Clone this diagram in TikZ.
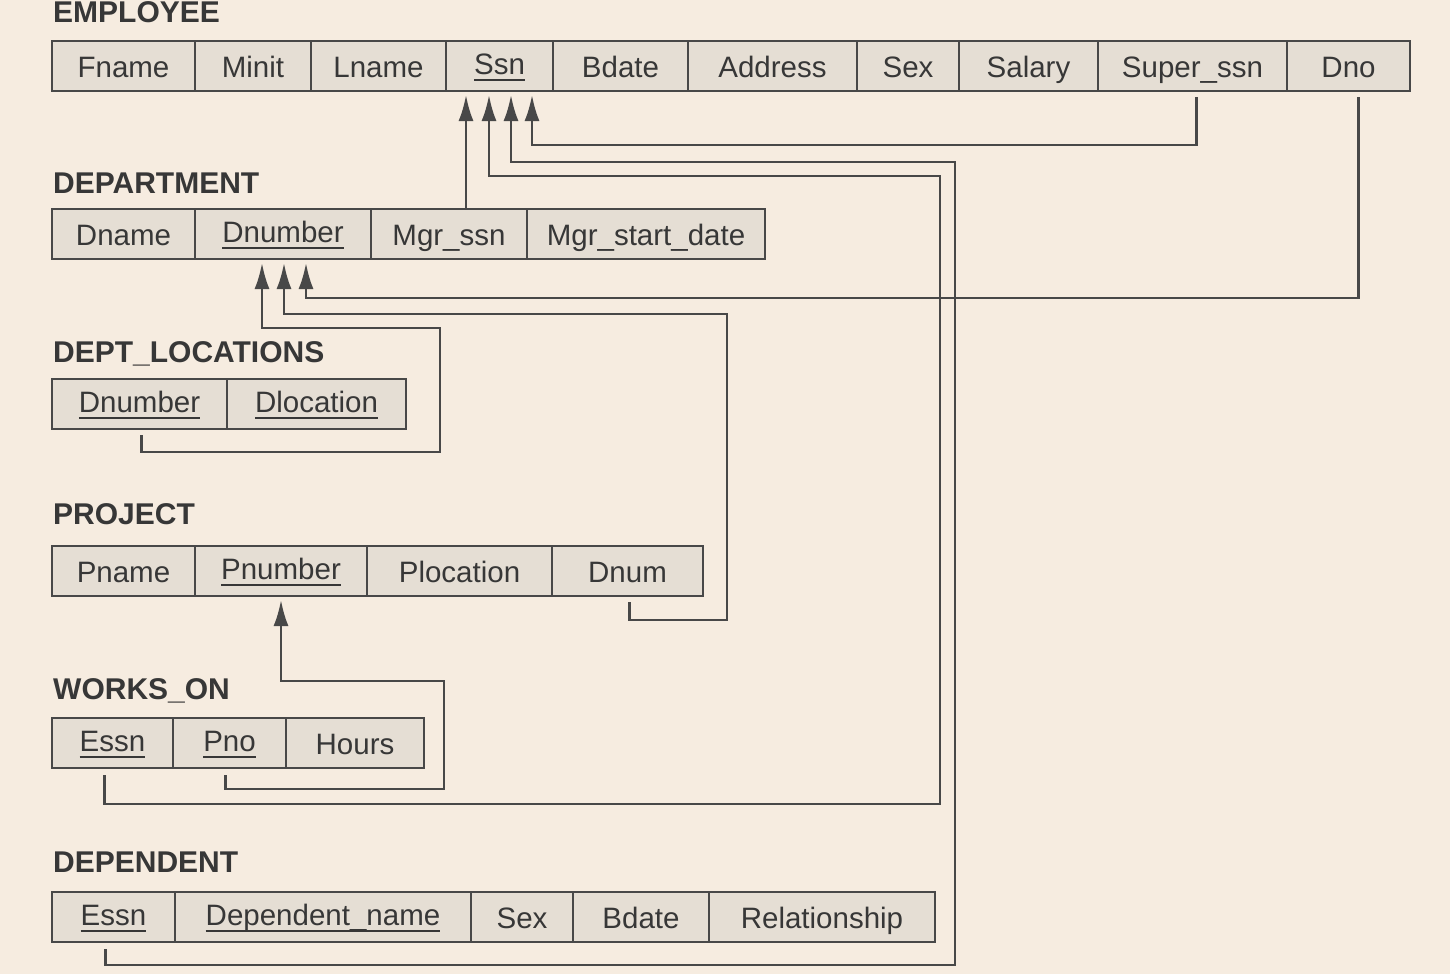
\documentclass[tikz,border=0pt]{standalone}
\usepackage{fontspec}
\setmainfont{Liberation Sans}
\usetikzlibrary{arrows.meta,positioning}

\definecolor{paper}{RGB}{246,236,224}
\definecolor{cellfill}{RGB}{229,222,212}
\definecolor{ink}{RGB}{72,72,72}
\definecolor{textgray}{RGB}{55,55,55}

% underlined key attribute
\newsavebox{\keybox}
\newcommand{\keyattr}[1]{\sbox{\keybox}{#1}\raisebox{3pt}{\rlap{\rule[-6.5pt]{\wd\keybox}{2.5pt}}\usebox{\keybox}}}

\begin{document}
\begin{tikzpicture}[x=1pt, y=-1pt,
    cell/.style={rectangle, draw=ink, fill=cellfill, line width=2.7pt, minimum height=50pt, inner sep=0pt, outer sep=0pt, text height=23pt, text depth=0pt, text=textgray, font=\fontsize{29.5}{34}\selectfont},
    relname/.style={anchor=base west, inner sep=0pt, text=textgray, font=\fontsize{30}{34}\selectfont\bfseries},
    fk/.style={draw=ink, line width=2.5pt, -{Latex[length=26pt,width=15pt]}}]

    \fill[paper] (0,0) rectangle (1450,974);
    \useasboundingbox (0,0) rectangle (1450,974);

    % Table for EMPLOYEE
    \node [relname] (employee) at (53,23) {EMPLOYEE};
    \node [cell, minimum width=143pt, anchor=north west] (fname) at (52,41) {Fname};
    \node [cell, minimum width=116pt, right=0pt of fname] (minit) {Minit};
    \node [cell, minimum width=135pt, right=0pt of minit] (lname) {Lname};
    \node [cell, minimum width=107pt, right=0pt of lname] (ssn) {\keyattr{Ssn}};
    \node [cell, minimum width=135pt, right=0pt of ssn] (bdate) {Bdate};
    \node [cell, minimum width=169pt, right=0pt of bdate] (address) {Address};
    \node [cell, minimum width=102pt, right=0pt of address] (sex) {Sex};
    \node [cell, minimum width=139pt, right=0pt of sex] (salary) {Salary};
    \node [cell, minimum width=189pt, right=0pt of salary] (superssn) {Super\_ssn};
    \node [cell, minimum width=123pt, right=0pt of superssn] (dno) {Dno};

    % Table for DEPARTMENT
    \node [relname] (department) at (53,193) {DEPARTMENT};
    \node [cell, minimum width=143pt, anchor=north west] (dname) at (52,209) {Dname};
    \node [cell, minimum width=176pt, right=0pt of dname] (dnumber) {\keyattr{Dnumber}};
    \node [cell, minimum width=156pt, right=0pt of dnumber] (mgrssn) {Mgr\_ssn};
    \node [cell, minimum width=238pt, right=0pt of mgrssn] (mgrstart) {Mgr\_start\_date};

    % Table for DEPT_LOCATIONS
    \node [relname] (deptloc) at (53,362) {DEPT\_LOCATIONS};
    \node [cell, minimum width=175pt, anchor=north west] (dlnumber) at (52,379) {\keyattr{Dnumber}};
    \node [cell, minimum width=179pt, right=0pt of dlnumber] (dlocation) {\keyattr{Dlocation}};

    % Table for PROJECT
    \node [relname] (project) at (53,524) {PROJECT};
    \node [cell, minimum width=143pt, anchor=north west] (pname) at (52,546) {Pname};
    \node [cell, minimum width=172pt, right=0pt of pname] (pnumber) {\keyattr{Pnumber}};
    \node [cell, minimum width=185pt, right=0pt of pnumber] (plocation) {Plocation};
    \node [cell, minimum width=151pt, right=0pt of plocation] (dnum) {Dnum};

    % Table for WORKS_ON
    \node [relname] (workson) at (53,699) {WORKS\_ON};
    \node [cell, minimum width=121pt, anchor=north west] (woessn) at (52,718) {\keyattr{Essn}};
    \node [cell, minimum width=113pt, right=0pt of woessn] (wopno) {\keyattr{Pno}};
    \node [cell, minimum width=138pt, right=0pt of wopno] (hours) {Hours};

    % Table for DEPENDENT
    \node [relname] (dependent) at (53,872) {DEPENDENT};
    \node [cell, minimum width=123pt, anchor=north west] (dpessn) at (52,892) {\keyattr{Essn}};
    \node [cell, minimum width=296pt, right=0pt of dpessn] (depname) {\keyattr{Dependent\_name}};
    \node [cell, minimum width=102pt, right=0pt of depname] (dpsex) {Sex};
    \node [cell, minimum width=136pt, right=0pt of dpsex] (dpbdate) {Bdate};
    \node [cell, minimum width=226pt, right=0pt of dpbdate] (relationship) {Relationship};

    % Arrow tips on the primary keys
    \coordinate (ssnA) at ([xshift=20pt,yshift=-4pt]ssn.south west);
    \coordinate (ssnB) at ([xshift=43pt,yshift=-4pt]ssn.south west);
    \coordinate (ssnC) at ([xshift=65pt,yshift=-4pt]ssn.south west);
    \coordinate (ssnD) at ([xshift=86pt,yshift=-4pt]ssn.south west);
    \coordinate (dnA) at ([xshift=67pt,yshift=-4pt]dnumber.south west);
    \coordinate (dnB) at ([xshift=89pt,yshift=-4pt]dnumber.south west);
    \coordinate (dnC) at ([xshift=111pt,yshift=-4pt]dnumber.south west);
    \coordinate (pnA) at ([xshift=86pt,yshift=-4pt]pnumber.south west);

    % Foreign keys to Ssn
    \draw [fk] (ssnA |- mgrssn.north) -- (ssnA);
    \draw [fk] ([xshift=4pt,yshift=-6pt]superssn.south) |- ([yshift=-50pt]ssnD) -- (ssnD);
    \draw [fk] ([xshift=-8pt,yshift=-7pt]dpessn.south) |- (955,965) |- ([yshift=-67pt]ssnC) -- (ssnC);
    \draw [fk] ([xshift=-8pt,yshift=-7pt]woessn.south) |- (940,804) |- ([yshift=-81pt]ssnB) -- (ssnB);

    % Foreign keys to Dnumber
    \draw [fk] ([xshift=10pt,yshift=-6pt]dno.south) |- ([yshift=-35pt]dnC) -- (dnC);
    \draw [fk] ([xshift=2pt,yshift=-6pt]dnum.south) |- (727,620) |- ([yshift=-51pt]dnB) -- (dnB);
    \draw [fk] ([xshift=2pt,yshift=-6pt]dlnumber.south) |- (440,452) |- ([yshift=-65pt]dnA) -- (dnA);

    % Foreign key to Pnumber
    \draw [fk] ([xshift=-4pt,yshift=-7pt]wopno.south) |- (444,789) |- ([yshift=-81pt]pnA) -- (pnA);
\end{tikzpicture}
\end{document}
